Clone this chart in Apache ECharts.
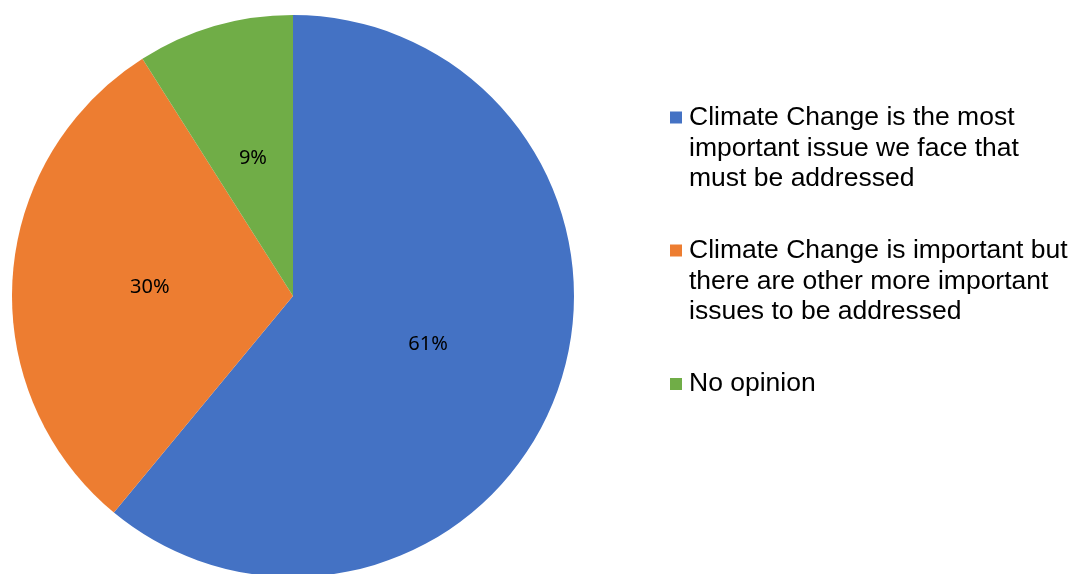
<!DOCTYPE html>
<html>
<head>
<meta charset="utf-8">
<script src="https://cdn.jsdelivr.net/npm/echarts@6/dist/echarts.min.js"></script>
<style>
html,body{margin:0;padding:0;background:#fff;}
#chart{width:1072px;height:574px;}
</style>
</head>
<body>
<div id="chart"></div>
<script>
const categories = [
  'Climate Change is the most\nimportant issue we face that\nmust be addressed',
  'Climate Change is important but\nthere are other more important\nissues to be addressed',
  'No opinion'
];
const values = [61, 30, 9];
const colors = ['#4472C4', '#ED7D31', '#70AD47'];

const LH = 30.75;
const iconCenters = [117.5, 250.5, 384];

function makeLegend(i) {
  const lines = categories[i].split('\n').length;
  const pad = lines - 1;
  return {
    orient: 'vertical',
    left: 670,
    top: iconCenters[i] - LH / 2 - pad * LH,
    padding: 0,
    itemWidth: 12,
    itemHeight: 12,
    icon: 'rect',
    selectedMode: false,
    data: [categories[i]],
    formatter: function (name) {
      return '\n'.repeat(pad) + name;
    },
    textStyle: {
      fontFamily: "'Liberation Sans', Arial, sans-serif",
      fontSize: 26.5,
      lineHeight: LH,
      color: '#000',
      padding: [0, 0, 0, 2]
    }
  };
}

const chart = echarts.init(document.getElementById('chart'));
chart.setOption({
  animation: false,
  color: colors,
  legend: [makeLegend(0), makeLegend(1), makeLegend(2)],
  series: [{
    type: 'pie',
    center: [293, 296],
    radius: 281,
    startAngle: 90,
    clockwise: true,
    avoidLabelOverlap: false,
    label: {
      show: true,
      position: 'inside',
      formatter: '{c}%',
      fontFamily: "'Noto Sans', sans-serif",
      fontSize: 20,
      color: '#000'
    },
    labelLine: { show: false },
    emphasis: { disabled: true },
    itemStyle: { borderWidth: 0 },
    data: categories.map((n, i) => ({ name: n, value: values[i] }))
  }]
});
</script>
</body>
</html>
